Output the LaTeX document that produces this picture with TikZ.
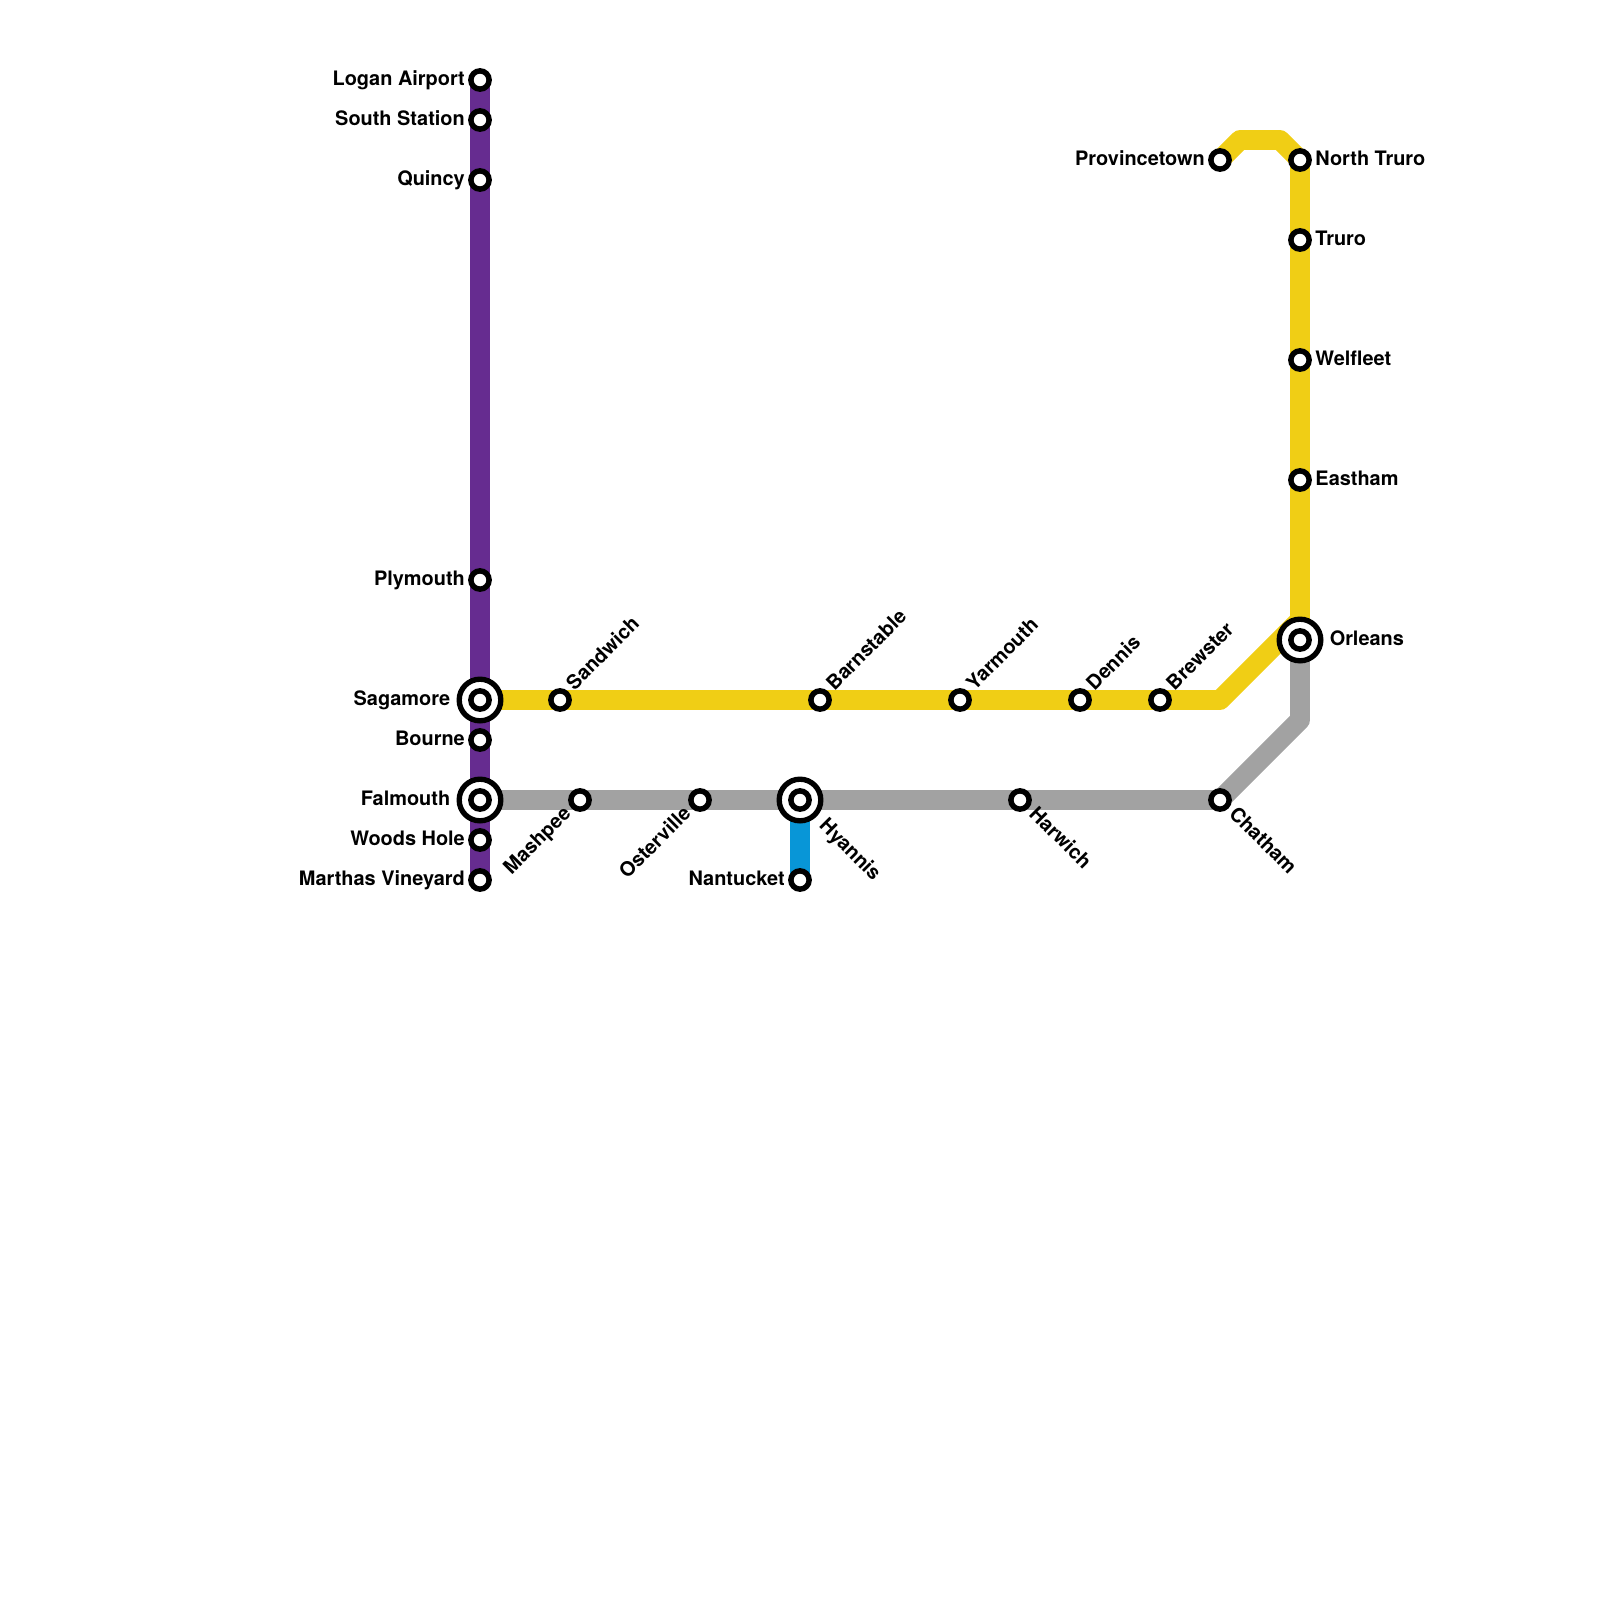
\documentclass[tikz,border=0pt]{standalone}
\usepackage{fontspec}
\setmainfont{TeX Gyre Heros}
\usetikzlibrary{backgrounds}
\definecolor{capeyellow}{HTML}{F0CE15}
\definecolor{capepurple}{HTML}{662C90}
\definecolor{capegray}{HTML}{A2A2A2}
\definecolor{capeblue}{HTML}{0896D7}
\tikzset{
	stop/.style={circle, draw=black, fill=white, line width=3.9pt, minimum size=13pt, inner sep=0pt, outer sep=0pt},
	hub/.style={circle, draw=black, fill=white, line width=3.8pt, minimum size=29.6pt, inner sep=0pt, outer sep=0pt},
	route/.style={line width=14.17pt, line join=round},
	txt/.style={font=\bfseries\fontsize{14.17}{14.17}\selectfont, inner sep=0pt, text height=10pt, text depth=0pt, yshift=1.4pt},
	txtleft/.style={txt, anchor=east, xshift=-10.6pt},
	txtright/.style={txt, anchor=west, xshift=10.8pt},
	hubleft/.style={txt, anchor=east, xshift=-21pt},
	hubright/.style={txt, anchor=west, xshift=21pt},
	txtup/.style={txt, xshift=6.8pt, yshift=8.4pt, anchor=west, rotate=45},
	txtdown/.style={txt, xshift=9.2pt, yshift=-8.4pt, anchor=west, rotate=-45},
	txtback/.style={txt, xshift=-9.2pt, yshift=-8.4pt, anchor=east, rotate=45},
}
\begin{document}
\begin{tikzpicture}[x=0.5cm, y=-0.5cm]
\useasboundingbox (0,0) rectangle (80,80);
% purple line
\node[stop] (logan) at (24,4) {};
\node[stop] (southstation) at (24,6) {};
\node[stop] (quincy) at (24,9) {};
\node[stop] (plymouth) at (24,29) {};
\node[hub] (sagamorehub) at (24,35) {};
\node[stop] (sagamore) at (24,35) {};
\node[stop] (bourne) at (24,37) {};
\node[hub] (falmouthhub) at (24,40) {};
\node[stop] (falmouth) at (24,40) {};
\node[stop] (woodshole) at (24,42) {};
\node[stop] (vineyard) at (24,44) {};
% yellow line
\node[stop] (sandwich) at (28,35) {};
\node[stop] (barnstable) at (41,35) {};
\node[stop] (yarmouth) at (48,35) {};
\node[stop] (dennis) at (54,35) {};
\node[stop] (brewster) at (58,35) {};
\node[hub] (orleanshub) at (65,32) {};
\node[stop] (orleans) at (65,32) {};
\node[stop] (eastham) at (65,24) {};
\node[stop] (welfleet) at (65,18) {};
\node[stop] (truro) at (65,12) {};
\node[stop] (northtruro) at (65,8) {};
\node[stop] (provincetown) at (61,8) {};
% gray line
\node[stop] (mashpee) at (29,40) {};
\node[stop] (osterville) at (35,40) {};
\node[hub] (hyannishub) at (40,40) {};
\node[stop] (hyannis) at (40,40) {};
\node[stop] (harwich) at (51,40) {};
\node[stop] (chatham) at (61,40) {};
% blue line
\node[stop] (nantucket) at (40,44) {};
% bends
\coordinate (yellowa) at (61,35);
\coordinate (yellowb) at (65,31);
\coordinate (yellowc) at (64,7);
\coordinate (yellowd) at (62,7);
\coordinate (graya) at (65,36);
\begin{scope}[on background layer]
\draw[route, capegray] (falmouth.center) -- (chatham.center) -- (graya) -- (orleans.center);
\draw[route, capeblue] (hyannis.center) -- (nantucket.center);
\draw[route, capepurple] (logan.center) -- (vineyard.center);
\draw[route, capeyellow] (sagamore.center) -- (yellowa) -- (yellowb) -- (northtruro.center) -- (yellowc) -- (yellowd) -- (provincetown.center);
\end{scope}
% labels
\node[txtleft] (loganlabel) at (logan) {Logan Airport};
\node[txtleft] (southstationlabel) at (southstation) {South Station};
\node[txtleft] (quincylabel) at (quincy) {Quincy};
\node[txtleft] (plymouthlabel) at (plymouth) {Plymouth};
\node[hubleft] (sagamorelabel) at (sagamore) {Sagamore};
\node[txtleft] (bournelabel) at (bourne) {Bourne};
\node[hubleft] (falmouthlabel) at (falmouth) {Falmouth};
\node[txtleft] (woodsholelabel) at (woodshole) {Woods Hole};
\node[txtleft] (vineyardlabel) at (vineyard) {Marthas Vineyard};
\node[txtleft] (nantucketlabel) at (nantucket) {Nantucket};
\node[txtleft] (provincetownlabel) at (provincetown) {Provincetown};
\node[txtright] (northtrurolabel) at (northtruro) {North Truro};
\node[txtright] (trurolabel) at (truro) {Truro};
\node[txtright] (welfleetlabel) at (welfleet) {Welfleet};
\node[txtright] (easthamlabel) at (eastham) {Eastham};
\node[hubright] (orleanslabel) at (orleans) {Orleans};
\node[txtup] (sandwichlabel) at (sandwich) {Sandwich};
\node[txtup] (barnstablelabel) at (barnstable) {Barnstable};
\node[txtup] (yarmouthlabel) at (yarmouth) {Yarmouth};
\node[txtup] (dennislabel) at (dennis) {Dennis};
\node[txtup] (brewsterlabel) at (brewster) {Brewster};
\node[txtback] (mashpeelabel) at (mashpee) {Mashpee};
\node[txtback] (ostervillelabel) at (osterville) {Osterville};
\node[xshift=7.2pt, yshift=-8.4pt, txtdown] (hyannislabel) at (hyannis) {Hyannis};
\node[txtdown] (harwichlabel) at (harwich) {Harwich};
\node[txtdown] (chathamlabel) at (chatham) {Chatham};
\end{tikzpicture}
\end{document}
